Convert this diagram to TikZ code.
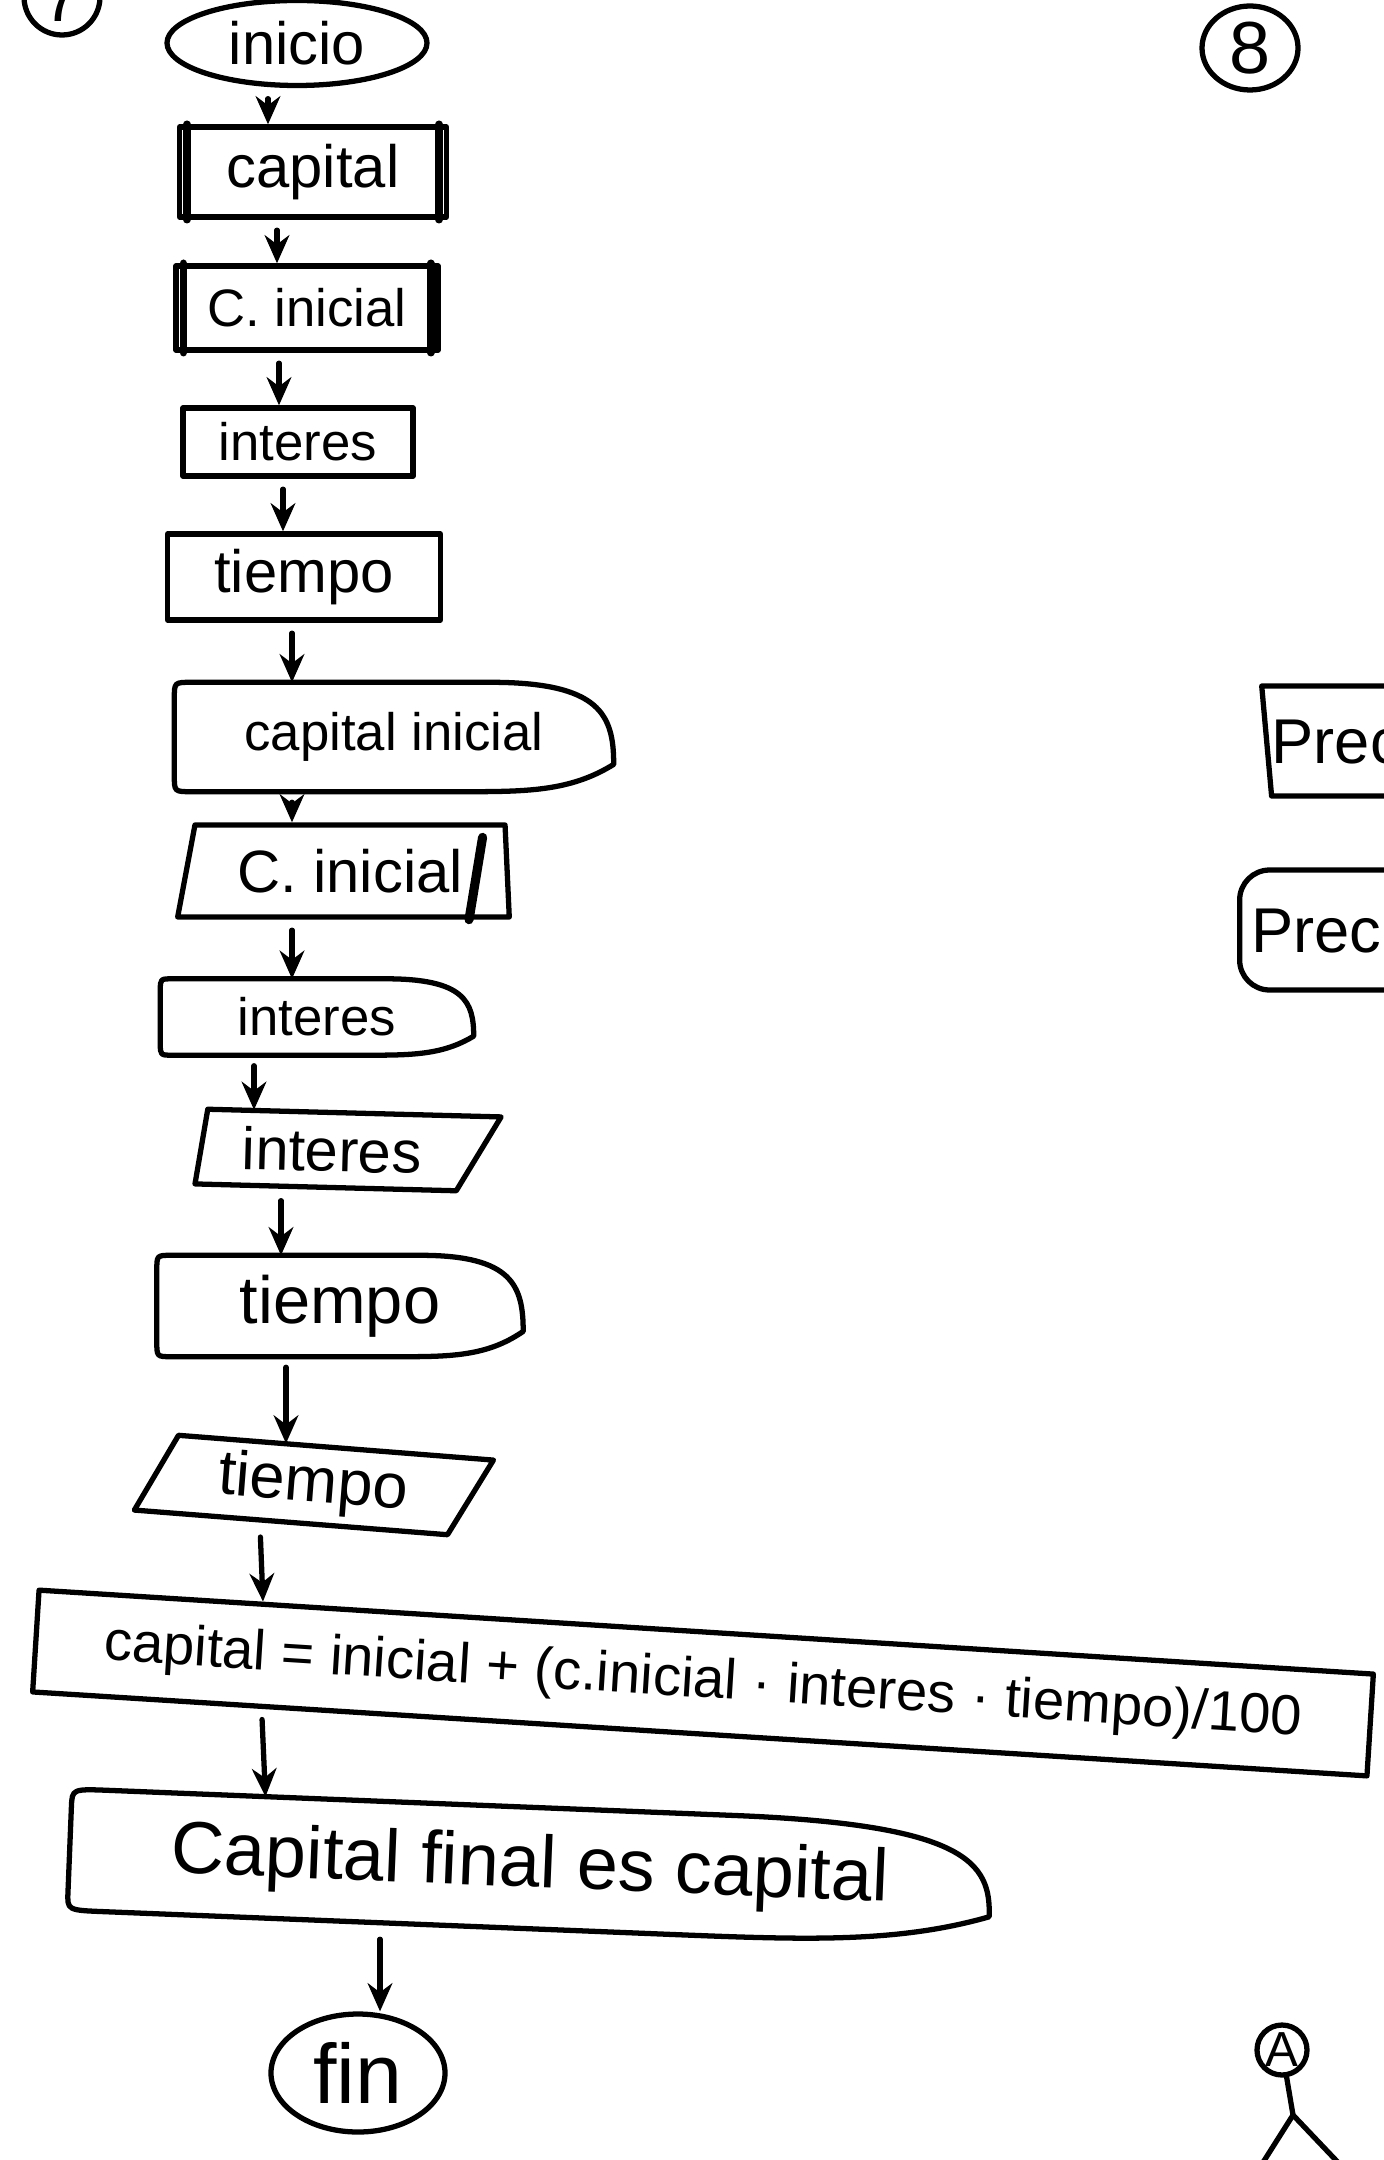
\documentclass[tikz,border=0pt]{standalone}
\usepackage{fontspec}
\setmainfont{Liberation Sans}
\usepackage{tikz}
\usetikzlibrary{arrows.meta,shapes,calc}
\tikzstyle{pen} = [line width=1.5pt, line cap=round, line join=round]
\tikzstyle{arrow} = [pen,-{Stealth[length=8pt,width=7pt]},shorten <=3pt]
\tikzstyle{term} = [draw, pen, ellipse, inner sep=0pt]
\tikzstyle{caja} = [draw, pen, rectangle, inner sep=0pt]
\tikzstyle{pantalla} = [inner sep=0pt]
\tikzstyle{datos} = [draw, pen, trapezium, trapezium stretches=true, inner sep=0pt]
\tikzset{hand/.style={font=\fontsize{#1}{#1}\selectfont}}
% outline of the display shapes (rounded left, pointed right)
\newcommand{\dibpantalla}[1]{%
  \draw[pen] ($(#1.north west)!0.04!(#1.north east)$)
    -- ($(#1.north west)!0.72!(#1.north east)$)
    .. controls ($(#1.north west)!0.97!(#1.north east)$) and ($(#1.north east)!0.6!(#1.east)$) .. ($(#1.east)!0.5!(#1.south east)$)
    .. controls ($(#1.south east)!0.1!(#1.south west)$) and ($(#1.south east)!0.2!(#1.south west)$) .. ($(#1.south east)!0.35!(#1.south west)$)
    -- ($(#1.south west)!0.04!(#1.south east)$)
    .. controls (#1.south west) .. ($(#1.south west)!0.15!(#1.north west)$)
    -- ($(#1.north west)!0.15!(#1.south west)$)
    .. controls (#1.north west) .. ($(#1.north west)!0.04!(#1.north east)$) -- cycle;}
% extra side lines of the input boxes
\newcommand{\lados}[1]{%
  \draw[pen, line width=2.2pt] ([xshift=0.1cm]#1.north west) -- ([xshift=0.1cm]#1.south west);
  \draw[pen, line width=2.2pt] ([xshift=-0.1cm]#1.north east) -- ([xshift=-0.1cm]#1.south east);}

\begin{document}
\begin{tikzpicture}
\useasboundingbox (0,0) rectangle (13.84,-21.6);

% Exercise numbers
\node[draw, pen, circle, minimum size=0.76cm, inner sep=0pt, hand=20] (num7) at (0.62,0.03) {7};
\node[draw, pen, ellipse, minimum width=0.96cm, minimum height=0.84cm, inner sep=0pt, hand=21] (num8) at (12.5,-0.48) {8};

% Main column
\node[term, minimum width=2.6cm, minimum height=0.85cm, hand=17] (inicio) at (2.97,-0.43) {inicio};
\node[caja, minimum width=2.67cm, minimum height=0.9cm, hand=17] (capital) at (3.13,-1.72) {capital};
\node[caja, minimum width=2.62cm, minimum height=0.84cm, hand=15] (cin) at (3.07,-3.08) {C. inicial};
\node[caja, minimum width=2.30cm, minimum height=0.68cm, hand=15] (int) at (2.98,-4.42) {interes};
\node[caja, minimum width=2.73cm, minimum height=0.86cm, hand=17] (tie) at (3.04,-5.77) {tiempo};
\node[pantalla, minimum width=4.38cm, minimum height=1.08cm, hand=15] (capini) at (3.94,-7.37) {capital inicial};
\node[datos, trapezium left angle=74, trapezium right angle=86, minimum width=3.33cm, minimum height=0.92cm, hand=17] (cin2) at (3.50,-8.71) {C. inicial};
\node[pantalla, minimum width=3.12cm, minimum height=0.75cm, hand=15] (int2) at (3.17,-10.17) {interes};
\node[datos, trapezium left angle=80, trapezium right angle=125, minimum width=3.05cm, minimum height=0.75cm, rotate=-1.5, hand=17] (int3) at (3.32,-11.5) {interes};
\node[pantalla, minimum width=3.65cm, minimum height=1.0cm, hand=19] (tie2) at (3.40,-13.06) {tiempo};
\node[datos, trapezium left angle=66, trapezium right angle=115, minimum width=3.55cm, minimum height=0.78cm, rotate=-4.5, hand=18] (tie3) at (3.13,-14.85) {tiempo};
\node[caja, minimum width=13.37cm, minimum height=1.02cm, rotate=-3.6, hand=16] (calc) at (7.03,-16.83) {capital = inicial + (c.inicial · interes · tiempo)/100};
\node[pantalla, minimum width=9.2cm, minimum height=1.2cm, rotate=-2.3, hand=21] (capfin) at (5.3,-18.68) {Capital final es capital};
\node[term, minimum width=1.74cm, minimum height=1.18cm, hand=24] (fin) at (3.58,-20.73) {fin};

\lados{capital}
\lados{cin}
\dibpantalla{capini}
\dibpantalla{int2}
\dibpantalla{tie2}
\dibpantalla{capfin}
\draw[pen, line width=2.6pt] ([xshift=-0.43cm]cin2.bottom right corner) -- ([xshift=-0.25cm,yshift=-0.15cm]cin2.top right corner);

% Right column (cut by the page)
\node[datos, trapezium left angle=102, trapezium right angle=90, minimum height=1.1cm, text width=3.2cm, align=left, anchor=west, hand=18] (pre1) at (12.64,-7.41) {Precio};
\node[draw, pen, rectangle, rounded corners=0.3cm, minimum height=1.2cm, text width=3.3cm, align=left, anchor=west, hand=18] (pre2) at (12.37,-9.3) {Precio};

% Connector A
\node[draw, pen, circle, minimum size=0.5cm, inner sep=0pt, hand=14] (conA) at (12.82,-20.5) {A};
\coordinate (ramA) at (12.93,-21.15);
\coordinate (ramI) at (12.55,-21.75);
\coordinate (ramD) at (13.5,-21.75);

% Connections
\draw[arrow] (inicio.south -| 2.68,0) -- (capital.north -| 2.68,0);
\draw[arrow] (capital.south -| 2.77,0) -- (cin.north -| 2.77,0);
\draw[arrow] (cin.south -| 2.79,0) -- (int.north -| 2.79,0);
\draw[arrow] (int.south -| 2.83,0) -- (tie.north -| 2.83,0);
\draw[arrow] (tie.south -| 2.92,0) -- (capini.north -| 2.92,0);
\draw[arrow] (capini.south -| 2.92,0) -- (cin2.north -| 2.92,0);
\draw[arrow] (cin2.south -| 2.92,0) -- (int2.north -| 2.92,0);
\draw[arrow] (int2.south -| 2.54,0) -- (int3.north -| 2.54,0);
\draw[arrow] (int3.south -| 2.81,0) -- (tie2.north -| 2.81,0);
\draw[arrow] (tie2.south -| 2.86,0) -- (tie3.north -| 2.86,0);
\draw[arrow] (tie3.south -| 2.60,0) -- ($(calc.north west)!0.169!(calc.north east)$);
\draw[arrow] ($(calc.south west)!0.173!(calc.south east)$) -- ($(capfin.north west)!0.21!(capfin.north east)$);
\draw[arrow] (capfin.south -| 3.80,0) -- (fin.north -| 3.80,0);

\draw[pen] (conA) -- (ramA);
\draw[pen] (ramA) -- (ramI);
\draw[pen] (ramA) -- (ramD);
\end{tikzpicture}
\end{document}
